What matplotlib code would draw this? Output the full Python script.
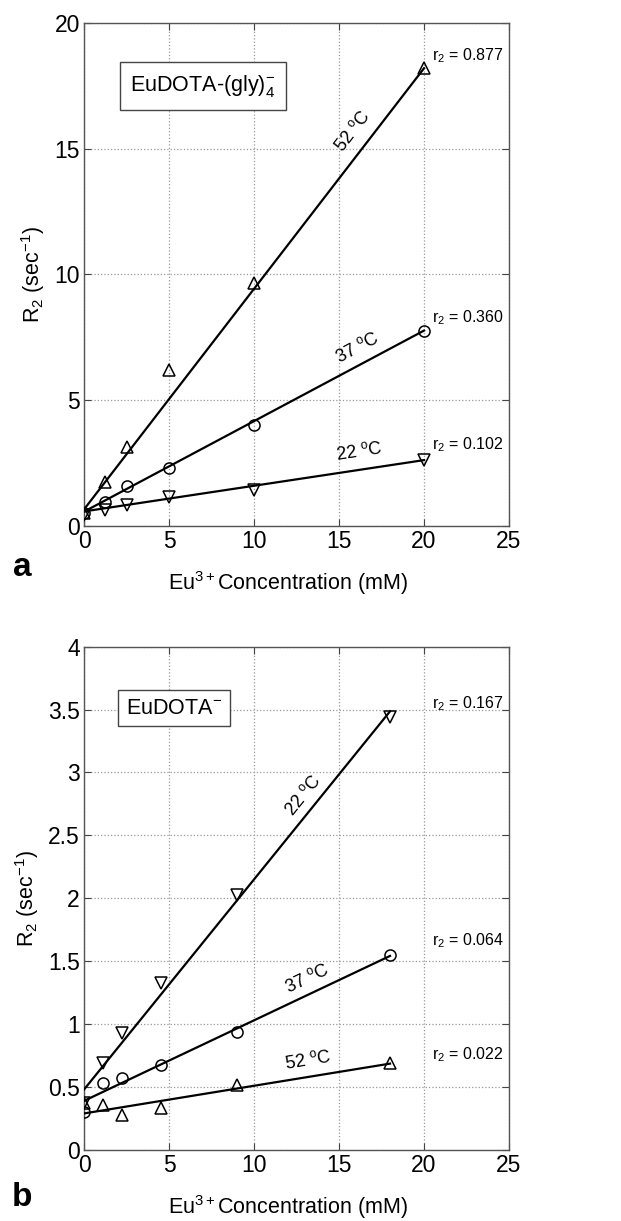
import numpy as np
import matplotlib
matplotlib.use("Agg")
import matplotlib.pyplot as plt
from matplotlib import font_manager

_names = {f.name for f in font_manager.fontManager.ttflist}
BASE = 'Liberation Sans Narrow' if 'Liberation Sans Narrow' in _names else 'Liberation Sans'

plt.rcParams['font.family'] = [BASE, 'DejaVu Sans']
plt.rcParams['mathtext.fontset'] = 'custom'
plt.rcParams['mathtext.rm'] = BASE
plt.rcParams['mathtext.it'] = BASE + ':italic'
plt.rcParams['mathtext.bf'] = BASE + ':bold'

# ---------------- Data: panel a (EuDOTA-(gly)4-) ----------------
conc_a = [0, 1.25, 2.5, 5, 10, 20]
r2_a_52 = [0.50, 1.76, 3.15, 6.20, 9.67, 18.22]
r2_a_37 = [0.50, 0.97, 1.59, 2.29, 4.02, 7.77]
r2_a_22 = [0.45, 0.63, 0.83, 1.17, 1.43, 2.62]
slopes_a = [0.877, 0.360, 0.102]          # 52, 37, 22 C
intercepts_a = [0.66, 0.57, 0.58]
temps_a = ['52 $^{\\mathregular{o}}$C', '37 $^{\\mathregular{o}}$C', '22 $^{\\mathregular{o}}$C']
templabel_pos_a = [(15.8, 15.7), (16.1, 7.08), (16.2, 2.95)]
r2label_a = ['0.877', '0.360', '0.102']
r2label_y_a = [18.7, 8.27, 3.22]

# ---------------- Data: panel b (EuDOTA-) ----------------
conc_b = [0, 1.125, 2.25, 4.5, 9, 18]
r2_b_22 = [0.376, 0.69, 0.93, 1.325, 2.03, 3.44]
r2_b_37 = [0.305, 0.53, 0.57, 0.675, 0.94, 1.55]
r2_b_52 = [0.37, 0.36, 0.28, 0.33, 0.517, 0.69]
slopes_b = [0.167, 0.064, 0.022]          # 22, 37, 52 C
intercepts_b = [0.48, 0.39, 0.29]
temps_b = ['22 $^{\\mathregular{o}}$C', '37 $^{\\mathregular{o}}$C', '52 $^{\\mathregular{o}}$C']
templabel_pos_b = [(12.9, 2.82), (13.1, 1.365), (13.2, 0.715)]
r2label_b = ['0.167', '0.064', '0.022']
r2label_y_b = [3.55, 1.66, 0.755]

xticks = [0, 5, 10, 15, 20, 25]
yticks_a = [0, 5, 10, 15, 20]
yticks_b = [0, 0.5, 1, 1.5, 2, 2.5, 3, 3.5, 4]

fig = plt.figure(figsize=(6.21, 12.21), dpi=100)
ax_a = fig.add_axes([0.1353, 0.5692, 0.6844, 0.4120])
ax_b = fig.add_axes([0.1353, 0.0582, 0.6844, 0.4122])

NARROW = BASE.endswith('Narrow')
TICK_FS = 18 if NARROW else 16.5
LBL_FS = 17 if NARROW else 15.5
SMALL_FS = 13 if NARROW else 11.5
BOX_FS = 17.5 if NARROW else 15.5


def style_axes(ax, yticks, ylim, yticklabels):
    ax.set_xlim(0, 25)
    ax.set_ylim(*ylim)
    ax.set_xticks(xticks)
    ax.set_yticks(yticks)
    ax.set_yticklabels(yticklabels)
    ax.tick_params(direction='in', top=True, right=True, labelsize=TICK_FS,
                   length=5, width=0.8, color='#444444', pad=3)
    ax.grid(True, linestyle=':', color='#999999', linewidth=0.9)
    for s in ax.spines.values():
        s.set_color('#555555')
        s.set_linewidth(1.0)
    ax.set_xlabel('Eu$^{\\mathregular{3+}}$Concentration (mM)', fontsize=LBL_FS, labelpad=12)
    ax.xaxis.set_label_coords(0.48, -0.085)
    ax.set_ylabel('R$_{\\mathregular{2}}$ (sec$^{\\mathregular{-1}}$)', fontsize=LBL_FS, labelpad=5)


def draw_panel(ax, conc, series, markers, msizes, slopes, intercepts, temps,
               tpos, r2labels, r2y):
    x0, x1 = conc[0], conc[-1]
    for (vals, m, ms) in zip(series, markers, msizes):
        ax.plot(conc, vals, linestyle='none', marker=m, markersize=ms,
                markerfacecolor='none', markeredgecolor='black', markeredgewidth=1.1,
                zorder=4)
    for sl, b in zip(slopes, intercepts):
        xs = np.array([x0, x1])
        ax.plot(xs, b + sl * xs, color='black', linewidth=1.6, zorder=3)
    for sl, t, (tx, ty) in zip(slopes, temps, tpos):
        ang = ax.transData.transform_angles(np.array([np.degrees(np.arctan(sl))]),
                                            np.array([[tx, ty]]))[0]
        ax.text(tx, ty, t, rotation=ang, rotation_mode='anchor', ha='center', va='center',
                fontsize=SMALL_FS + 1.5, zorder=5)
    for lab, y in zip(r2labels, r2y):
        ax.text(20.45, y, 'r$_{\\mathregular{2}}$ = ' + lab, ha='left', va='center',
                fontsize=SMALL_FS, zorder=5)


style_axes(ax_a, yticks_a, (0, 20), [str(v) for v in yticks_a])
draw_panel(ax_a, conc_a, [r2_a_52, r2_a_37, r2_a_22], ['^', 'o', 'v'], [9, 8, 9],
           slopes_a, intercepts_a, temps_a, templabel_pos_a, r2label_a, r2label_y_a)
ax_a.text(7.0, 17.5, 'EuDOTA-(gly)$_{\\mathregular{4}}^{\\mathregular{-}}$', ha='center', va='center',
          fontsize=BOX_FS, zorder=6,
          bbox=dict(boxstyle='square,pad=0.5', facecolor='white', edgecolor='#444444', linewidth=1.0))

style_axes(ax_b, yticks_b, (0, 4), ['0', '0.5', '1', '1.5', '2', '2.5', '3', '3.5', '4'])
draw_panel(ax_b, conc_b, [r2_b_22, r2_b_37, r2_b_52], ['v', 'o', '^'], [9, 8, 9],
           slopes_b, intercepts_b, temps_b, templabel_pos_b, r2label_b, r2label_y_b)
ax_b.text(5.3, 3.51, 'EuDOTA$^{\\mathregular{-}}$', ha='center', va='center',
          fontsize=BOX_FS, zorder=6,
          bbox=dict(boxstyle='square,pad=0.35', facecolor='white', edgecolor='#444444', linewidth=1.0))

fig.text(22 / 621, 1 - 567 / 1221, 'a', fontsize=24, fontweight='bold', ha='center', va='center',
         family=['Liberation Sans', 'DejaVu Sans'])
fig.text(22 / 621, 1 - 1198 / 1221, 'b', fontsize=24, fontweight='bold', ha='center', va='center',
         family=['Liberation Sans', 'DejaVu Sans'])

fig.savefig('out.png', dpi=100)
